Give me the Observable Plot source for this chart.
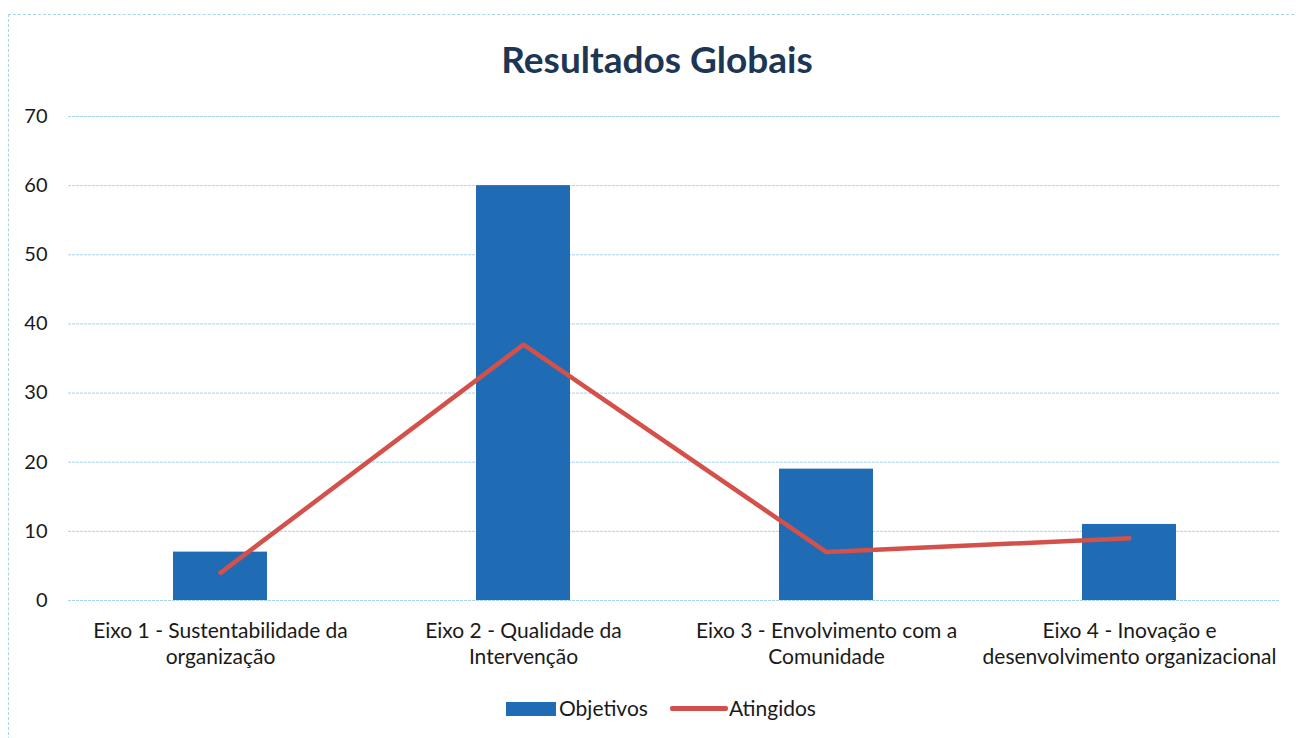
<!DOCTYPE html>
<html>
<head>
<meta charset="utf-8">
<script src="https://cdn.jsdelivr.net/npm/d3@7"></script>
<script src="https://cdn.jsdelivr.net/npm/@observablehq/plot@0.6"></script>
<style>
  html, body { margin: 0; padding: 0; background: #fff; }
  body { width: 1296px; height: 738px; position: relative; overflow: hidden; font-family: Lato, "Open Sans", sans-serif; }
  #frame { position: absolute; left: 8px; top: 14px; width: 1300px; height: 740px; border-left: 1.5px dashed #a9d3ea; border-top: 1.5px dashed #a9d3ea; }
  #title { position: absolute; left: 0; width: 1314px; top: 36px; text-align: center; font-size: 37px; font-weight: bold; color: #1d3654; line-height: 46px; }
  #chart { position: absolute; left: 0; top: 0; }
  #legend { position: absolute; top: 694px; left: 0; width: 1296px; font-size: 21px; color: #1a1a1a; line-height: 28px; }
  .sw { position: absolute; }
</style>
</head>
<body>
<div id="frame"></div>
<div id="chart"></div>
<div id="title">Resultados Globais</div>
<div id="legend">
  <div class="sw" style="left:506px; top:8px; width:50px; height:14px; background:#1f6cb4;"></div>
  <div class="sw" style="left:559px; top:0px;">Objetivos</div>
  <div class="sw" style="left:670px; top:12px; width:58px; height:5px; background:#d14f4a; border-radius:2px;"></div>
  <div class="sw" style="left:729px; top:0px;">Atingidos</div>
</div>
<script>
const categories = [
  "Eixo 1 - Sustentabilidade da\norganização",
  "Eixo 2 - Qualidade da\nIntervenção",
  "Eixo 3 - Envolvimento com a\nComunidade",
  "Eixo 4 - Inovação e\ndesenvolvimento organizacional"
];
const objetivos = [7, 60, 19, 11];
const atingidos = [4, 37, 7, 9];
const yTicks = [0, 10, 20, 30, 40, 50, 60, 70];

const data = categories.map((c, i) => ({cat: c, obj: objetivos[i], ating: atingidos[i]}));

const chart = Plot.plot({
  width: 1296,
  height: 680,
  marginTop: 116,
  marginBottom: 80,
  marginLeft: 68,
  marginRight: 16,
  style: {fontFamily: "Lato, 'Open Sans', sans-serif", fontSize: "20px", color: "#1a1a1a", background: "transparent"},
  x: {type: "band", domain: categories, paddingInner: 0.69, paddingOuter: 0.345, label: null},
  y: {domain: [0, 70], label: null},
  marks: [
    Plot.ruleY(yTicks, {stroke: "#a9d3ea", strokeWidth: 1, strokeDasharray: "3,1"}),
    Plot.barY(data, {x: "cat", y: "obj", fill: "#1f6cb4"}),
    Plot.line(data, {x: "cat", y: "ating", stroke: "#d4504b", strokeWidth: 4.5, strokeLinejoin: "miter", strokeLinecap: "round"}),
    Plot.axisY({ticks: yTicks, tickSize: 0, tickPadding: 21, fontSize: 20, label: null}),
    Plot.axisX({tickSize: 0, tickPadding: 19, fontSize: 21, lineHeight: 1.24, label: null})
  ]
});
document.getElementById("chart").appendChild(chart);
</script>
</body>
</html>
